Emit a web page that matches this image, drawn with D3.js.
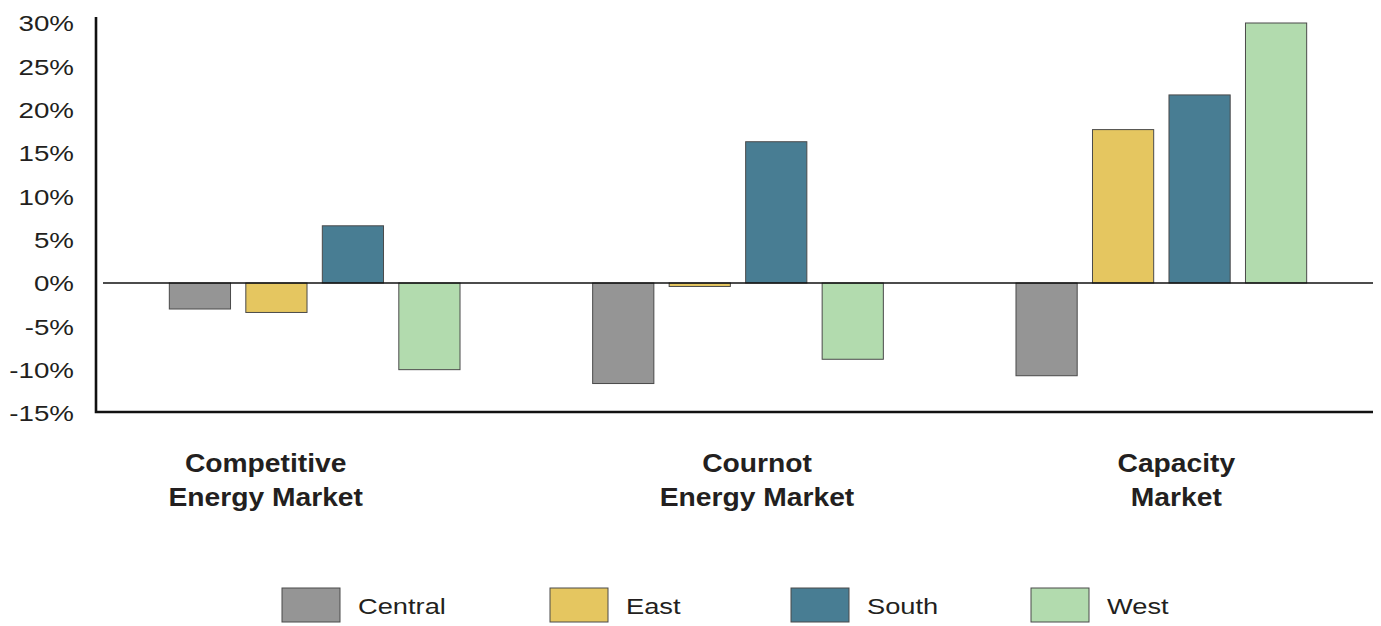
<!DOCTYPE html>
<html>
<head>
<meta charset="utf-8">
<script src="https://cdn.jsdelivr.net/npm/d3@7/dist/d3.min.js"></script>
<style>
  html, body { margin: 0; padding: 0; background: #ffffff; }
  svg { display: block; font-family: "Liberation Sans", Arial, Helvetica, sans-serif; }
</style>
</head>
<body>
<svg id="chart" width="1381" height="626"></svg>
<script>
// Market categories (two-line labels)
const categories = ["Competitive Energy Market", "Cournot Energy Market", "Capacity Market"];
const categoryLines = [["Competitive", "Energy Market"], ["Cournot", "Energy Market"], ["Capacity", "Market"]];
// Regions
const series = ["Central", "East", "South", "West"];
// Percentage change per region, one array per market
const competitiveValues = [-3.0, -3.4, 6.6, -10.0];
const cournotValues = [-11.6, -0.4, 16.3, -8.8];
const capacityValues = [-10.7, 17.7, 21.7, 30.0];
const yTicks = [30, 25, 20, 15, 10, 5, 0, -5, -10, -15];
const colors = ["#959595", "#e5c660", "#487d93", "#b2dbae"];

const valuesByCategory = [competitiveValues, cournotValues, capacityValues];
const rows = [];
categories.forEach((c, i) => series.forEach((s, j) => rows.push({ category: c, series: s, value: valuesByCategory[i][j] })));

const svg = d3.select("#chart");
const textColor = "#231f20";

const y = d3.scaleLinear().domain([-15, 30]).range([413, 23]);
const x0 = d3.scaleBand().domain(categories).range([103, 1373]).paddingInner(0).paddingOuter(0);
const x1 = d3.scaleBand().domain(series).range([0, x0.bandwidth()]).paddingInner(0.2).paddingOuter(0.867);
const color = d3.scaleOrdinal().domain(series).range(colors);

// Y axis tick labels (wide-set type)
const yAxis = d3.axisLeft(y).tickValues(yTicks).tickFormat(d => d + "%").tickSize(0).tickPadding(0);
const gy = svg.append("g").attr("transform", "translate(74,0)").call(yAxis);
gy.select(".domain").remove();
gy.selectAll("text")
  .attr("font-size", 22)
  .attr("fill", textColor)
  .attr("font-family", "Liberation Sans, Arial, sans-serif")
  .attr("dy", "0.36em")
  .attr("transform", "scale(1.26,1)");

// Bars
svg.append("g")
  .selectAll("rect")
  .data(rows)
  .join("rect")
  .attr("x", d => x0(d.category) + x1(d.series))
  .attr("width", x1.bandwidth())
  .attr("y", d => y(Math.max(0, d.value)))
  .attr("height", d => Math.abs(y(d.value) - y(0)))
  .attr("fill", d => color(d.series))
  .attr("stroke", "#4a4a4a")
  .attr("stroke-width", 1);

// Zero baseline
svg.append("line")
  .attr("x1", 103).attr("x2", 1373)
  .attr("y1", y(0)).attr("y2", y(0))
  .attr("stroke", "#111").attr("stroke-width", 1.5);

// Axis frame (left and bottom)
svg.append("path")
  .attr("d", `M96,17 L96,412 L1373,412`)
  .attr("fill", "none")
  .attr("stroke", "#111")
  .attr("stroke-width", 2.6);

// Category labels, nudged from each group's centre
const labelShift = [-49, 19, 15];
const cat = svg.append("g").selectAll("text")
  .data(categories)
  .join("text")
  .attr("transform", (d, i) => `translate(${x0(d) + x0.bandwidth() / 2 + labelShift[i]},472) scale(1.13,1)`)
  .attr("text-anchor", "middle")
  .attr("font-size", 25)
  .attr("font-weight", "bold")
  .attr("fill", textColor);
cat.each(function(d, i) {
  const t = d3.select(this);
  categoryLines[i].forEach((line, k) => {
    t.append("tspan").attr("x", 0).attr("dy", k === 0 ? 0 : 34).text(line);
  });
});

// Legend
const legendX = [282, 550, 791, 1031];
const legend = svg.append("g").selectAll("g")
  .data(series)
  .join("g")
  .attr("transform", (d, i) => `translate(${legendX[i]},588)`);
legend.append("rect")
  .attr("width", 58).attr("height", 34)
  .attr("fill", d => color(d))
  .attr("stroke", "#4a4a4a").attr("stroke-width", 1);
legend.append("text")
  .attr("transform", "translate(76,18) scale(1.24,1)")
  .attr("dy", "0.36em")
  .attr("font-size", 22)
  .attr("fill", textColor)
  .text(d => d);
</script>
</body>
</html>
